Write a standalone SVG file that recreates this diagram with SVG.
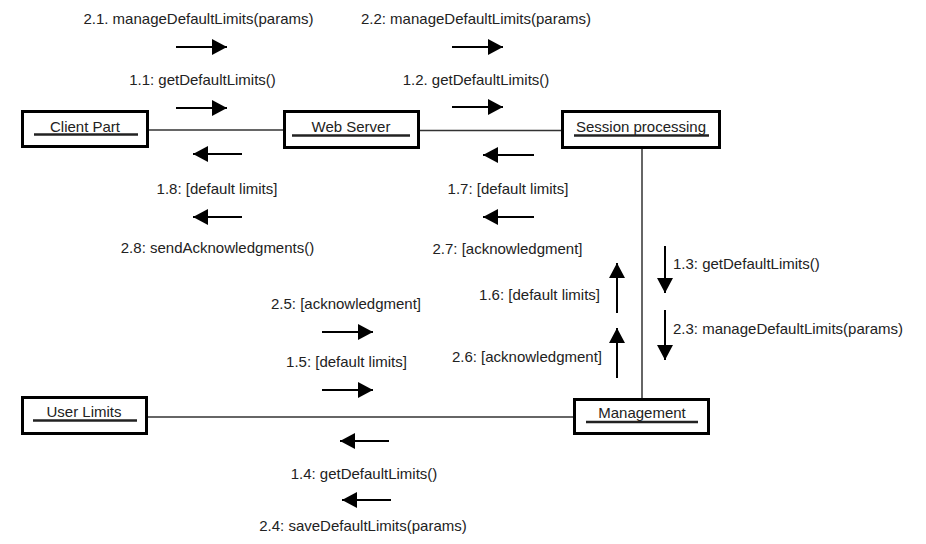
<svg xmlns="http://www.w3.org/2000/svg" width="926" height="544" viewBox="0 0 926 544">
  <style>
    .box { fill: #fff; stroke: #000; stroke-width: 3; }
    .uline { stroke: #222; stroke-width: 2.5; }
    .name { font-family: "Liberation Sans", Arial, sans-serif; font-size: 15px; fill: #222; text-anchor: middle; }
    .link { stroke: #333; stroke-width: 1.5; fill: none; }
    .msg { stroke: #000; stroke-width: 2; fill: none; marker-end: url(#head); }
    .lbl { font-family: "Liberation Sans", Arial, sans-serif; font-size: 15px; fill: #222; }
    .mid { text-anchor: middle; }
    .end { text-anchor: end; }
  </style>
  <defs>
    <marker id="head" markerUnits="userSpaceOnUse" markerWidth="15" markerHeight="16" refX="15" refY="8" orient="auto">
      <path d="M0,0 L15,8 L0,16 z" fill="#000"/>
    </marker>
  </defs>
  <rect width="926" height="544" fill="#fff"/>

  <!-- links between objects -->
  <g id="connectors">
    <line class="link" x1="149" y1="130" x2="283" y2="130"/>
    <line class="link" x1="420" y1="130.5" x2="561" y2="130.5"/>
    <line class="link" x1="642" y1="148" x2="642" y2="398"/>
    <line class="link" x1="148" y1="417" x2="573" y2="417"/>

    <!-- messages -->
    <line class="msg" x1="176" y1="47" x2="227" y2="47"/>
    <line class="msg" x1="176" y1="108" x2="227" y2="108"/>
    <line class="msg" x1="242" y1="154" x2="193" y2="154"/>
    <line class="msg" x1="242" y1="217" x2="193" y2="217"/>
    <line class="msg" x1="452" y1="47" x2="503" y2="47"/>
    <line class="msg" x1="452" y1="107" x2="503" y2="107"/>
    <line class="msg" x1="534" y1="155" x2="483" y2="155"/>
    <line class="msg" x1="534" y1="217" x2="483" y2="217"/>
    <line class="msg" x1="665" y1="246" x2="665" y2="293"/>
    <line class="msg" x1="665" y1="310" x2="665" y2="360"/>
    <line class="msg" x1="617" y1="313" x2="617" y2="263"/>
    <line class="msg" x1="617" y1="378" x2="617" y2="328"/>
    <line class="msg" x1="322" y1="332" x2="373" y2="332"/>
    <line class="msg" x1="322" y1="390" x2="373" y2="390"/>
    <line class="msg" x1="389" y1="441" x2="340" y2="441"/>
    <line class="msg" x1="391" y1="500" x2="342" y2="500"/>

    <!-- message labels -->
    <text class="lbl mid" x="198.5" y="24">2.1. manageDefaultLimits(params)</text>
    <text class="lbl mid" x="202.5" y="85">1.1: getDefaultLimits()</text>
    <text class="lbl mid" x="217" y="194">1.8: [default limits]</text>
    <text class="lbl mid" x="217.5" y="253">2.8: sendAcknowledgments()</text>
    <text class="lbl mid" x="476" y="24">2.2: manageDefaultLimits(params)</text>
    <text class="lbl mid" x="476" y="85">1.2. getDefaultLimits()</text>
    <text class="lbl mid" x="508" y="194">1.7: [default limits]</text>
    <text class="lbl mid" x="507.5" y="254">2.7: [acknowledgment]</text>
    <text class="lbl" x="673" y="269">1.3: getDefaultLimits()</text>
    <text class="lbl" x="673" y="334">2.3: manageDefaultLimits(params)</text>
    <text class="lbl end" x="600" y="300">1.6: [default limits]</text>
    <text class="lbl end" x="602" y="362">2.6: [acknowledgment]</text>
    <text class="lbl mid" x="346" y="309">2.5: [acknowledgment]</text>
    <text class="lbl mid" x="346.5" y="367">1.5: [default limits]</text>
    <text class="lbl mid" x="364" y="479">1.4: getDefaultLimits()</text>
    <text class="lbl mid" x="363" y="531">2.4: saveDefaultLimits(params)</text>
  </g>

  <g id="client-part">
    <rect class="box" x="22.5" y="111.5" width="125" height="35"/>
    <text class="name" x="85" y="132">Client Part</text>
    <line class="uline" x1="34" y1="134.5" x2="138" y2="134.5"/>
  </g>

  <g id="web-server">
    <rect class="box" x="284.5" y="111.5" width="134" height="36"/>
    <text class="name" x="351" y="132">Web Server</text>
    <line class="uline" x1="292" y1="135.5" x2="410" y2="135.5"/>
  </g>

  <g id="session-processing">
    <rect class="box" x="562.5" y="111.5" width="157" height="36"/>
    <text class="name" x="641" y="132">Session processing</text>
    <line class="uline" x1="574" y1="135.5" x2="709" y2="135.5"/>
  </g>

  <g id="management">
    <rect class="box" x="574.5" y="399.5" width="134" height="34"/>
    <text class="name" x="642" y="418">Management</text>
    <line class="uline" x1="586" y1="422" x2="698" y2="422"/>
  </g>

  <g id="user-limits">
    <rect class="box" x="22.5" y="397.5" width="124" height="36"/>
    <text class="name" x="84" y="417">User Limits</text>
    <line class="uline" x1="33" y1="420.5" x2="137" y2="420.5"/>
  </g>
</svg>
